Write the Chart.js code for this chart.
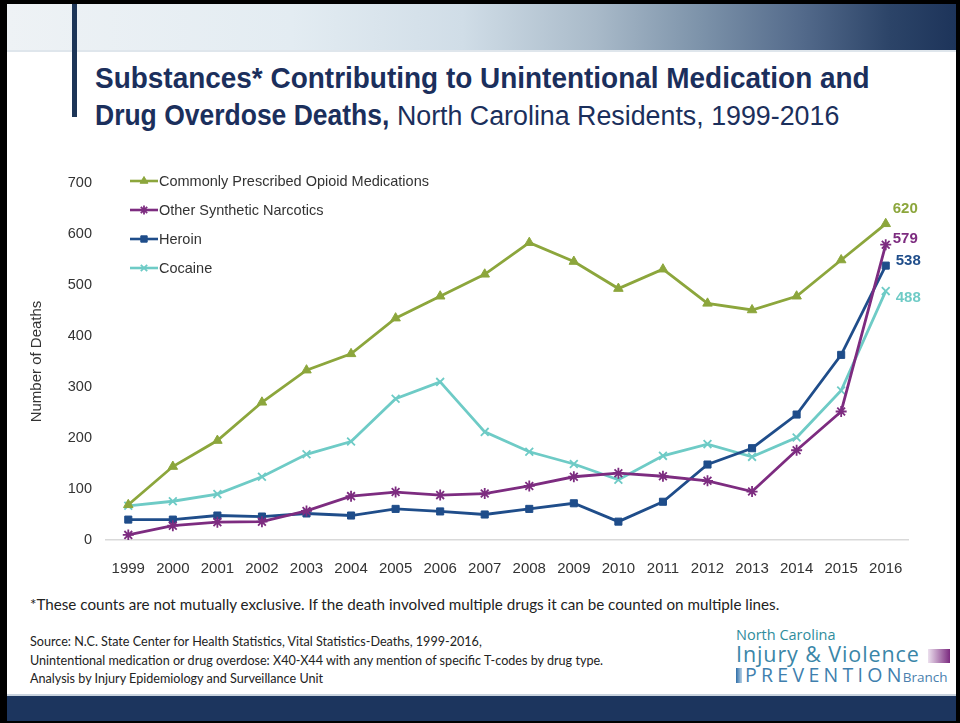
<!DOCTYPE html>
<html>
<head>
<meta charset="utf-8">
<script src="https://cdn.jsdelivr.net/npm/chart.js@4.4.0/dist/chart.umd.min.js"></script>
<style>
  body { margin: 0; background: #fff; }
  #page { position: relative; width: 960px; height: 723px; background: #fff; overflow: hidden; box-sizing: border-box; border-style: solid; border-color: #000; border-width: 4px 4px 2px 7px; }
  #band { position: absolute; left: 0; top: 0; right: 0; height: 46px;
    background: linear-gradient(to right, #eef2f5 0%, #e3ecf2 30%, #d0dde7 48%, #a9bac9 62%, #7d93aa 73%, #52698a 84%, #2c4468 93%, #1d345a 100%); }
  #bandline { position: absolute; left: 0; right: 0; top: 46px; height: 2px; background: #dfe6ec; }
  #vbar { position: absolute; left: 65px; top: 0; width: 5px; height: 113px; background: #1d3557; }
  #title { position: absolute; left: 88px; top: 55px; color: #1b2f5c; white-space: nowrap; }
  #title .b { display: inline-block; transform-origin: 0 50%; font-family: "Liberation Sans", Arial, sans-serif; font-weight: bold; font-size: 30px; }
  #title .r { font-family: "Liberation Sans", Arial, sans-serif; font-size: 26.8px; }
  #title div { height: 37px; line-height: 37px; }
  #chartwrap { position: absolute; left: -7px; top: 156px; width: 960px; height: 420px; }
  #foot { position: absolute; left: 23px; top: 591px; font-family: "Lato", "Open Sans", sans-serif; font-size: 15.2px; color: #222; white-space: nowrap; }
  #src { position: absolute; left: 23px; top: 629px; font-family: "Lato", "Open Sans", sans-serif; font-size: 12.6px; color: #222; line-height: 18.5px; white-space: nowrap; }
  #logo { position: absolute; left: 729px; top: 622px; font-family: "Open Sans", sans-serif; white-space: nowrap; }
  #logo .nc { font-size: 14.5px; color: #2f8c9c; line-height: 17px; }
  #logo .iv { font-size: 21.5px; color: #3a86a8; line-height: 21px; letter-spacing: 0.9px; }
  #logo .pv { font-size: 19.5px; color: #3f7fae; line-height: 22px; letter-spacing: 4.3px; }
  #logo .br { font-size: 13.5px; letter-spacing: 0; color: #4a7fae; margin-left: -3px; }
  #logo .sq1 { display: inline-block; width: 22px; height: 14px; margin-left: 8px; vertical-align: -1px; background: linear-gradient(to right, #ece0ee, #7b2a7f); }
  #logo .sq2 { display: inline-block; width: 6px; height: 15px; margin-right: 3px; vertical-align: -1px; background: linear-gradient(to right, #2f6ea8, #b6d1e6); }
  #bottom { position: absolute; left: 0; right: 0; bottom: 0; height: 25px; background: #1c355e; }
  #bottomline { position: absolute; left: 0; right: 0; bottom: 25px; height: 2px; background: #c9d3de; }
</style>
</head>
<body>
<div id="page">
  <div id="band"></div>
  <div id="bandline"></div>
  <div id="vbar"></div>
  <div id="title">
    <div><span class="b" data-w="775">Substances* Contributing to Unintentional Medication and</span></div>
    <div><span class="b" data-w="294">Drug Overdose Deaths,</span><span class="r"> North Carolina Residents, 1999-2016</span></div>
  </div>
  <div id="chartwrap"><canvas id="chart" width="960" height="420"></canvas></div>
  <div id="foot">*These counts are not mutually exclusive. If the death involved multiple drugs it can be counted on multiple lines.</div>
  <div id="src">Source: N.C. State Center for Health Statistics, Vital Statistics-Deaths, 1999-2016,<br>Unintentional medication or drug overdose: X40-X44 with any mention of specific T-codes by drug type.<br>Analysis by Injury Epidemiology and Surveillance Unit</div>
  <div id="logo">
    <div class="nc">North Carolina</div>
    <div class="iv">Injury &amp; Violence<span class="sq1"></span></div>
    <div class="pv"><span class="sq2"></span>PREVENTION<span class="br">Branch</span></div>
  </div>
  <div id="bottomline"></div>
  <div id="bottom"></div>
</div>
<script>
// years on the x axis
const years = ['1999', '2000', '2001', '2002', '2003', '2004', '2005', '2006', '2007', '2008',
               '2009', '2010', '2011', '2012', '2013', '2014', '2015', '2016'];

// deaths per year
const opioidMeds = [69, 144, 195, 270, 333, 365, 435, 478, 521, 583, 546, 493, 531, 464, 451, 478, 549, 620];
const otherSynthetic = [10, 28, 35, 36, 57, 86, 94, 88, 91, 106, 124, 131, 125, 116, 95, 176, 252, 579];
const heroin = [40, 40, 48, 46, 52, 48, 61, 56, 50, 61, 72, 36, 75, 148, 180, 246, 363, 538];
const cocaine = [67, 76, 90, 124, 168, 193, 277, 310, 212, 173, 149, 118, 165, 188, 163, 201, 293, 488];

const yTicks = [0, 100, 200, 300, 400, 500, 600, 700];

const seriesNames = ['Commonly Prescribed Opioid Medications', 'Other Synthetic Narcotics', 'Heroin', 'Cocaine'];
const seriesColors = ['#8ca63c', '#7d2c80', '#1f4d8a', '#6ecbc6'];
const seriesMarkers = ['triangle', 'star', 'rect', 'crossRot'];

const FONT = '"Liberation Sans", Arial, sans-serif';

// squeeze the bold title runs to a narrow look (no Arial Narrow here)
document.querySelectorAll('#title .b').forEach(el => {
    const w = el.offsetWidth;
    const target = +el.dataset.w;
    el.style.transform = 'scaleX(' + (target / w) + ')';
    el.style.marginRight = (target - w) + 'px';
});

function makeSet(i, data) {
    return {
        label: seriesNames[i],
        data: data,
        borderColor: seriesColors[i],
        backgroundColor: seriesColors[i],
        pointBackgroundColor: seriesColors[i],
        pointBorderColor: seriesColors[i],
        pointStyle: seriesMarkers[i],
        pointRadius: seriesMarkers[i] === 'rect' ? 5 : 5.5,
        pointBorderWidth: seriesMarkers[i] === 'rect' || seriesMarkers[i] === 'triangle' ? 1 : 1.8,
        borderWidth: 2.8,
        tension: 0
    };
}

// legend drawn inside the plot, line + marker like the original
const insideLegend = {
    id: 'insideLegend',
    afterDraw(chart) {
        const ctx = chart.ctx;
        const x0 = 130, y0 = 21, rowH = 29;
        ctx.save();
        chart.data.datasets.forEach((ds, i) => {
            const y = y0 + i * rowH;
            ctx.strokeStyle = ds.borderColor;
            ctx.lineWidth = 2.6;
            ctx.beginPath();
            ctx.moveTo(x0, y);
            ctx.lineTo(x0 + 28, y);
            ctx.stroke();
            ctx.fillStyle = ds.borderColor;
            ctx.lineWidth = ds.pointBorderWidth;
            Chart.helpers.drawPoint(ctx, { pointStyle: ds.pointStyle, radius: 4.5, borderWidth: ds.pointBorderWidth, rotation: 0 }, x0 + 14, y);
            ctx.fillStyle = '#333';
            ctx.font = '14.5px ' + FONT;
            ctx.textBaseline = 'middle';
            ctx.textAlign = 'left';
            ctx.fillText(ds.label, x0 + 29, y + 1);
        });
        ctx.restore();
    }
};

// value labels next to the 2016 points
const endLabels = {
    id: 'endLabels',
    afterDatasetsDraw(chart) {
        const ctx = chart.ctx;
        const offsets = [-15, -6, -5, 7];
        const dxs = [7, 7, 10, 10];
        ctx.save();
        ctx.font = 'bold 15px ' + FONT;
        ctx.textBaseline = 'middle';
        ctx.textAlign = 'left';
        chart.data.datasets.forEach((ds, i) => {
            const pts = chart.getDatasetMeta(i).data;
            const p = pts[pts.length - 1];
            ctx.fillStyle = ds.borderColor;
            ctx.fillText(String(ds.data[ds.data.length - 1]), p.x + dxs[i], p.y + offsets[i]);
        });
        ctx.restore();
    }
};

const ctx = document.getElementById('chart').getContext('2d');
const chart = new Chart(ctx, {
    type: 'line',
    data: {
        labels: years,
        datasets: [
            makeSet(0, opioidMeds),
            makeSet(1, otherSynthetic),
            makeSet(2, heroin),
            makeSet(3, cocaine)
        ]
    },
    options: {
        responsive: false,
        devicePixelRatio: 1,
        animation: false,
        layout: { padding: { top: 23, right: 52, left: 28, bottom: 0 } },
        plugins: {
            legend: { display: false },
            tooltip: { enabled: false }
        },
        scales: {
            x: {
                offset: true,
                grid: { display: false },
                border: { display: true, color: '#d9d9d9', width: 1.5 },
                ticks: { color: '#333', font: { family: FONT, size: 15 }, padding: 12, maxRotation: 0, autoSkip: false },
                afterFit(s) { s.height = 40; }
            },
            y: {
                min: 0,
                max: 700,
                afterBuildTicks(s) { s.ticks = yTicks.map(v => ({ value: v })); },
                grid: { display: false, drawTicks: false },
                border: { display: false },
                ticks: { color: '#333', font: { family: FONT, size: 14.5 }, padding: 14 },
                title: { display: true, text: 'Number of Deaths', color: '#333', font: { family: FONT, size: 15 }, padding: 0 },
                afterFit(s) { s.width = 78; }
            }
        }
    },
    plugins: [insideLegend, endLabels]
});
</script>
</body>
</html>
